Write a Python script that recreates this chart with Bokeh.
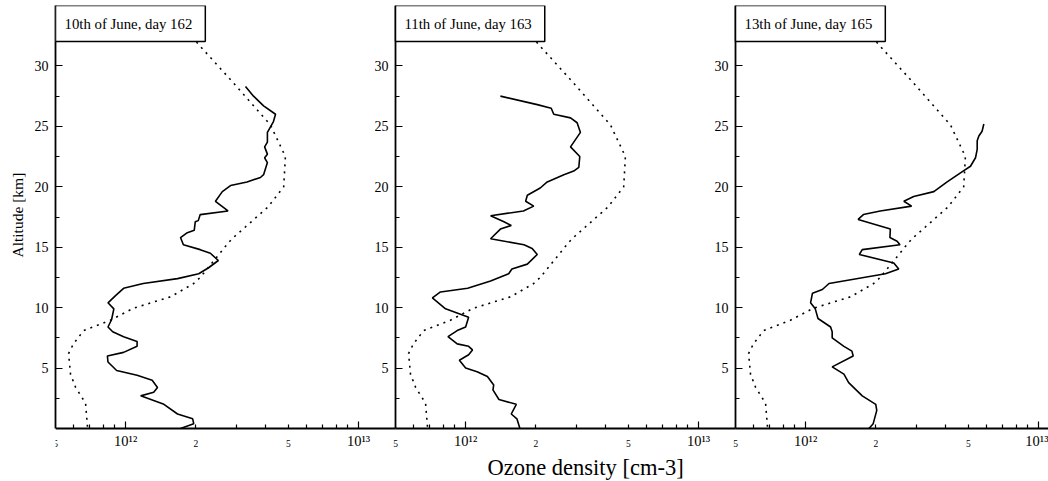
import math
from bokeh.plotting import figure
from bokeh.models import Range1d, LogAxis, LinearAxis, FixedTicker, Label, LogScale, Title
from bokeh.embed import file_html
from bokeh.resources import INLINE

# ---------------- data ----------------
panel_titles = ["10th of June, day 162", "11th of June, day 163", "13th of June, day 165"]

# measured ozone profiles (altitude km, density cm-3)
alt_162 = [28.3, 27.5, 26.7, 26.0, 25.4, 24.5, 23.7, 23.3, 22.7, 22.4, 22.0, 21.0, 20.77, 20.4,
           20.1, 19.6, 18.8, 18.0, 17.7, 17.2, 17.1, 16.4, 16.2, 15.8, 15.2, 14.8, 14.5, 13.9,
           13.3, 12.8, 12.4, 12.0, 11.6, 11.0, 10.4, 9.9, 9.0, 8.4, 8.0, 7.6, 7.2, 6.8, 6.3,
           6.0, 5.5, 4.8, 4.4, 4.0, 3.4, 3.0, 2.7, 2.0, 1.2, 0.8, 0.4, 0.0]
dens_162 = [3.27e12, 3.54e12, 3.91e12, 4.40e12, 4.31e12, 4.06e12, 4.06e12, 3.95e12, 4.06e12,
            3.95e12, 4.06e12, 3.91e12, 3.79e12, 3.32e12, 2.82e12, 2.60e12, 2.43e12, 2.75e12,
            2.09e12, 2.05e12, 1.99e12, 1.97e12, 1.84e12, 1.72e12, 1.77e12, 2.09e12, 2.31e12,
            2.50e12, 2.27e12, 2.06e12, 1.67e12, 1.19e12, 0.98e12, 0.905e12, 0.84e12, 0.89e12,
            0.87e12, 0.84e12, 0.88e12, 0.98e12, 1.12e12, 1.12e12, 0.98e12, 0.835e12, 0.84e12,
            0.915e12, 1.12e12, 1.30e12, 1.37e12, 1.32e12, 1.16e12, 1.46e12, 1.67e12, 1.94e12,
            1.96e12, 1.72e12]

alt_163 = [27.5, 26.8, 26.5, 26.0, 25.7, 25.3, 24.5, 23.3, 22.5, 21.6, 21.3, 21.0, 20.4, 19.9,
           19.3, 18.8, 18.4, 18.0, 17.6, 17.1, 16.8, 16.5, 15.7, 15.2, 14.9, 14.4, 13.6, 13.2,
           12.8, 12.2, 11.6, 11.3, 10.8, 9.9, 9.2, 8.4, 8.1, 7.6, 7.0, 6.8, 6.5, 6.1, 5.65,
           5.0, 4.7, 4.3, 3.6, 3.2, 2.4, 2.0, 1.2, 0.8, 0.0]
dens_163 = [1.41e12, 2.03e12, 2.33e12, 2.39e12, 2.82e12, 3.01e12, 3.11e12, 2.82e12, 3.09e12,
            3.06e12, 2.91e12, 2.64e12, 2.24e12, 2.09e12, 1.84e12, 1.81e12, 1.96e12, 1.77e12,
            1.28e12, 1.46e12, 1.57e12, 1.41e12, 1.28e12, 1.78e12, 1.93e12, 2.03e12, 1.84e12,
            1.58e12, 1.53e12, 1.28e12, 1.02e12, 0.78e12, 0.72e12, 0.82e12, 1.03e12, 1.00e12,
            0.92e12, 0.84e12, 0.92e12, 1.03e12, 1.07e12, 1.03e12, 0.94e12, 1.00e12, 1.12e12,
            1.24e12, 1.32e12, 1.31e12, 1.39e12, 1.65e12, 1.57e12, 1.66e12, 1.71e12]

alt_165 = [25.2, 24.6, 24.2, 23.8, 23.1, 22.4, 21.7, 21.3, 20.4, 19.6, 19.2, 18.8, 18.4, 18.0,
           17.7, 17.3, 16.5, 15.8, 15.5, 15.2, 14.8, 14.4, 13.7, 13.2, 12.8, 12.0, 11.5, 11.2,
           10.4, 9.9, 9.1, 8.4, 8.0, 7.5, 6.8, 6.4, 6.0, 5.1, 4.5, 3.8, 2.7, 2.0, 1.5, 0.4, 0.0]
dens_165 = [5.82e12, 5.72e12, 5.54e12, 5.45e12, 5.45e12, 5.36e12, 5.10e12, 4.74e12, 4.05e12,
            3.55e12, 2.91e12, 2.64e12, 2.85e12, 2.09e12, 1.77e12, 1.68e12, 2.31e12, 2.30e12,
            2.47e12, 2.54e12, 1.75e12, 1.70e12, 2.39e12, 2.51e12, 2.20e12, 1.26e12, 1.18e12,
            1.07e12, 1.05e12, 1.10e12, 1.13e12, 1.28e12, 1.30e12, 1.30e12, 1.46e12, 1.58e12,
            1.60e12, 1.30e12, 1.46e12, 1.53e12, 1.75e12, 2.00e12, 2.02e12, 1.95e12, 1.87e12]

# reference (climatological) profile, dotted, same in all panels
clim_alt = [32.5, 31.9, 28.6, 25.1, 22.5, 20.0, 18.3, 15.8, 15.4, 12.5, 12.0, 10.9, 9.95, 8.96,
            8.1, 7.0, 6.2, 4.5, 3.4, 2.1, 0.1, 0.0]
clim_dens = [1.95e12, 2.03e12, 2.90e12, 4.19e12, 4.85e12, 4.77e12, 4.07e12, 2.90e12, 2.77e12,
             2.09e12, 1.96e12, 1.56e12, 1.08e12, 0.86e12, 0.66e12, 0.597e12, 0.569e12, 0.58e12,
             0.61e12, 0.673e12, 0.686e12, 0.686e12]

profiles = [(alt_162, dens_162), (alt_163, dens_163), (alt_165, dens_165)]

# axis ticks / labels
x_decade_ticks = [1e12, 1e13]
x_decade_labels = ["10\u00b9\u00b2", "10\u00b9\u00b3"]
x_sub_ticks = [5e11, 2e12, 5e12]
x_sub_labels = ["5", "2", "5"]
x_minor_ticks = [6e11, 7e11, 8e11, 9e11, 2e12, 3e12, 4e12, 5e12, 6e12, 7e12, 8e12, 9e12]
y_ticks = [5, 10, 15, 20, 25, 30]
y_minor_ticks = [2.5, 7.5, 12.5, 17.5, 22.5, 27.5, 32.5]
x_title = "Ozone density [cm-3]"
y_title = "Altitude [km]"

# ---------------- layout ----------------
X_MIN, X_PANEL_MAX = 5e11, 1.44e13
Y_MIN, Y_MAX = 0, 35
W, H = 1048, 481
LEFT, TOP = 55, 5
ZERO_PX = 428          # pixel row of altitude 0
BOTTOM = 29            # room left under the frame for the x title
PANEL_PX = 340
FONT = "Liberation Serif"

frame_w = W - LEFT
D = math.log10(X_PANEL_MAX / X_MIN)
span = D * frame_w / PANEL_PX
# frame reaches below altitude 0 so the x tick labels sit inside it
y_start = Y_MIN - (Y_MAX - Y_MIN) * (H - BOTTOM - ZERO_PX) / (ZERO_PX - TOP)


def prange(k):
    return Range1d(X_MIN * 10 ** (-k * D), X_MIN * 10 ** (span - k * D))


p = figure(width=W, height=H, x_axis_type="log", x_range=prange(0),
           y_range=Range1d(y_start, Y_MAX), output_backend="svg", toolbar_location=None,
           min_border_left=LEFT, min_border_top=TOP, min_border_bottom=BOTTOM,
           min_border_right=0, x_axis_location=None, y_axis_location=None)
p.outline_line_color = None
p.grid.grid_line_color = None
p.background_fill_color = "white"
p.border_fill_color = "white"
p.extra_x_ranges = {"p2": prange(1), "p3": prange(2)}
p.extra_x_scales = {"p2": LogScale(), "p3": LogScale()}
range_names = ["default", "p2", "p3"]


def style_common(ax):
    ax.axis_line_color = "black"
    ax.major_tick_line_color = "black"
    ax.minor_tick_line_color = "black"
    ax.major_tick_line_width = 1.2
    ax.minor_tick_line_width = 1.2
    ax.major_tick_out = 0
    ax.minor_tick_out = 0
    ax.major_label_text_font = FONT
    ax.major_label_text_color = "black"


for k, rn in enumerate(range_names):
    # y axis
    yax = LinearAxis(ticker=FixedTicker(ticks=y_ticks, minor_ticks=y_minor_ticks),
                     bounds=(Y_MIN, Y_MAX))
    style_common(yax)
    yax.axis_line_width = 1.8
    yax.major_tick_in = 7
    yax.minor_tick_in = 4
    yax.major_label_text_font_size = "14px"
    yax.major_label_standoff = 7
    if k > 0:
        yax.fixed_location = X_MIN * 10 ** (k * D)
    p.add_layout(yax, "left")

    # x axis: decades
    xa = LogAxis(x_range_name=rn, bounds=(X_MIN, X_PANEL_MAX), fixed_location=Y_MIN,
                 ticker=FixedTicker(ticks=x_decade_ticks, minor_ticks=x_minor_ticks),
                 major_label_overrides=dict(zip(x_decade_ticks, x_decade_labels)))
    style_common(xa)
    xa.axis_line_width = 2
    xa.major_tick_in = 7
    xa.minor_tick_in = 4
    xa.major_label_text_font_size = "14.5px"
    xa.major_label_standoff = 4
    p.add_layout(xa, "below")

    # x axis: 5 / 2 / 5 sub labels
    xb = LogAxis(x_range_name=rn, bounds=(X_MIN, X_PANEL_MAX), fixed_location=Y_MIN,
                 ticker=FixedTicker(ticks=x_sub_ticks, minor_ticks=[]),
                 major_label_overrides=dict(zip(x_sub_ticks, x_sub_labels)))
    style_common(xb)
    xb.axis_line_color = None
    xb.major_tick_in = 0
    xb.minor_tick_in = 0
    xb.major_label_text_font_size = "9.5px"
    xb.major_label_standoff = 11
    p.add_layout(xb, "below")

    # data
    alt, dens = profiles[k]
    p.line(clim_dens, clim_alt, x_range_name=rn, line_color="black", line_width=1.6,
           line_dash="2 5")
    p.line(dens, alt, x_range_name=rn, line_color="black", line_width=1.6)

    # title box
    lab = Label(x=X_MIN, y=Y_MAX, x_range_name=rn, anchor="top_left", text=panel_titles[k],
                text_font=FONT, text_font_size="14.8px", text_color="black",
                border_line_color="black", border_line_width=1.5,
                background_fill_color="white", padding=(9, 13, 10, 10))
    p.add_layout(lab)

# axis titles
ty = Title(text=y_title, align="left", offset=195, text_font=FONT,
           text_font_size="15.5px", text_font_style="normal", text_color="black",
           standoff=12)
p.add_layout(ty, "left")

tx = Title(text=x_title, align="left", offset=432, text_font=FONT,
           text_font_size="22.5px", text_font_style="normal", text_color="black",
           standoff=0)
p.add_layout(tx, "below")

open("out.html", "w").write(file_html(p, INLINE))
